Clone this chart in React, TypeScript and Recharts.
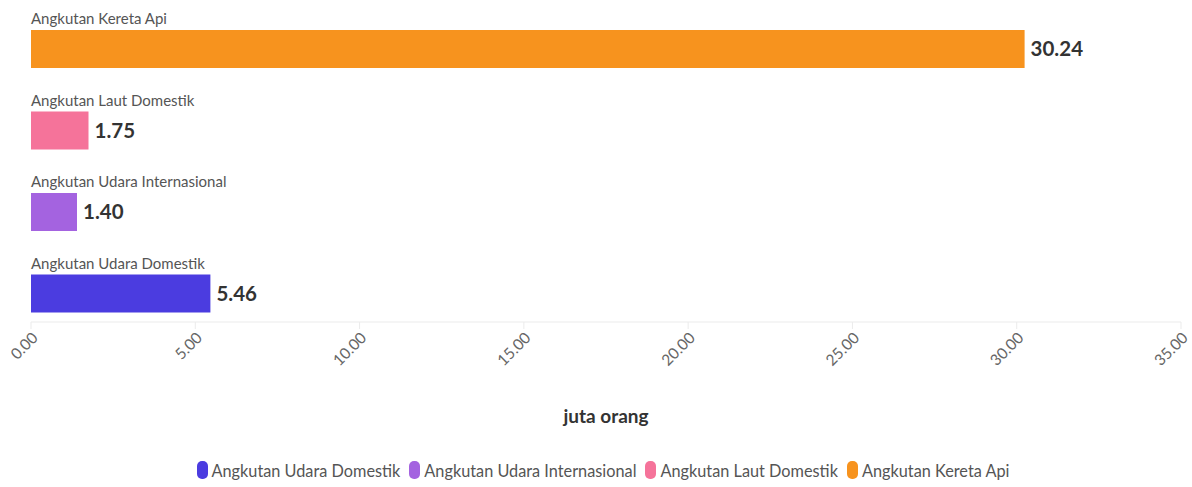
import React from 'react';
import { BarChart, Bar, XAxis, YAxis, Cell, LabelList, Legend } from 'recharts';

const categories = [
  'Angkutan Udara Domestik',
  'Angkutan Udara Internasional',
  'Angkutan Laut Domestik',
  'Angkutan Kereta Api',
];
const values = [5.46, 1.4, 1.75, 30.24];
const colors = ['#4b3ce0', '#a463e0', '#f5739a', '#f7931e'];
const xTicks = [0, 5, 10, 15, 20, 25, 30, 35];
const axisTitle = 'juta orang';

const FONT = 'Lato, "Noto Sans", sans-serif';

const data = categories
  .map((name, i) => ({ name, value: values[i], color: colors[i] }))
  .reverse();

const XTick = (props: any) => {
  const { x, y, payload } = props;
  return (
    <g transform={`translate(${x + 4},${y + 4})`}>
      <text
        x={0}
        y={0}
        dy="0.35em"
        textAnchor="end"
        transform="rotate(-45)"
        fontSize={15.5}
        fontFamily={FONT}
        fill="#666"
      >
        {Number(payload.value).toFixed(2)}
      </text>
    </g>
  );
};

const NameLabel = (props: any) => {
  const { x, y, value } = props;
  return (
    <text x={x} y={y - 6} fontSize={15} fontFamily={FONT} fill="#555">
      {value}
    </text>
  );
};

const ValueLabel = (props: any) => {
  const { x, y, width, height, value } = props;
  return (
    <text
      x={x + width + 6}
      y={y + height / 2}
      dy="0.35em"
      fontSize={20.5}
      fontWeight={700}
      fontFamily={FONT}
      fill="#333"
    >
      {Number(value).toFixed(2)}
    </text>
  );
};

const LegendContent = () => (
  <div
    style={{
      display: 'flex',
      justifyContent: 'center',
      alignItems: 'center',
      gap: 9,
      height: 20,
      paddingRight: 6,
      fontFamily: FONT,
      fontSize: 16.3,
      color: '#555',
    }}
  >
    {categories.map((c, i) => (
      <div key={c} style={{ display: 'flex', alignItems: 'center' }}>
        <span
          style={{
            display: 'inline-block',
            width: 11,
            height: 18,
            borderRadius: 5,
            background: colors[i],
            marginRight: 4,
          }}
        />
        <span>{c}</span>
      </div>
    ))}
  </div>
);

export default function App() {
  return (
    <div style={{ position: 'absolute', left: 0, top: 0, background: '#fff' }}>
      <BarChart
        width={1192}
        height={487}
        data={data}
        layout="vertical"
        margin={{ top: 0, right: 11, left: 31, bottom: 7 }}
      >
        <XAxis
          type="number"
          domain={[0, 35]}
          ticks={xTicks}
          interval={0}
          height={138}
          stroke="#ebebeb"
          tickLine={{ stroke: '#ebebeb' }}
          axisLine={{ stroke: '#ebebeb' }}
          tickSize={7}
          tick={<XTick />}
          label={{
            value: axisTitle,
            position: 'insideBottom',
            offset: 37,
            fill: '#333',
            fontSize: 19,
            fontWeight: 700,
            fontFamily: FONT,
          }}
        />
        <YAxis type="category" dataKey="name" hide width={0} padding={{ top: 8, bottom: -12 }} />
        <Legend verticalAlign="bottom" content={<LegendContent />} />
        <Bar dataKey="value" barSize={38} isAnimationActive={false}>
          {data.map((d) => (
            <Cell key={d.name} fill={d.color} />
          ))}
          <LabelList dataKey="name" content={<NameLabel />} />
          <LabelList dataKey="value" content={<ValueLabel />} />
        </Bar>
      </BarChart>
    </div>
  );
}
